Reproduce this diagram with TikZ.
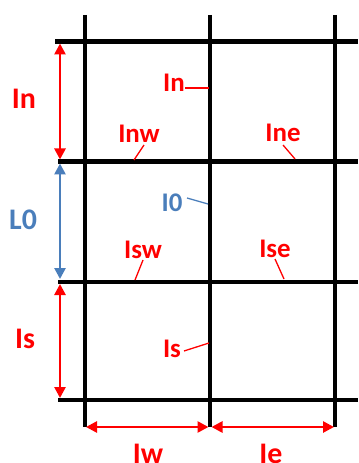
\documentclass[tikz,border=0pt]{standalone}
\usepackage{fontspec}
\setmainfont{Carlito}
\usetikzlibrary{arrows.meta}
\definecolor{myred}{RGB}{255,0,0}
\definecolor{myblue}{RGB}{74,126,187}
\tikzset{
  gridline/.style={line width=4.2bp,black},
  dimred/.style={line width=2.6bp,myred,{Triangle[length=11bp,width=11bp]}-{Triangle[length=11bp,width=11bp]}},
  dimblue/.style={line width=2.6bp,myblue,{Triangle[length=11bp,width=11bp]}-{Triangle[length=11bp,width=11bp]}},
  leadred/.style={line width=1.3bp,myred},
  leadblue/.style={line width=1.3bp,myblue},
  biglab/.style={inner sep=0pt,anchor=base,font=\fontsize{30}{31}\selectfont\bfseries},
  smalllab/.style={inner sep=0pt,anchor=base,font=\fontsize{27}{28}\selectfont\bfseries},
}
\begin{document}
\begin{tikzpicture}[x=1bp,y=-1bp]
\useasboundingbox (0,0) rectangle (358,463);
% grid coordinates
\coordinate (v1t) at (85,15);  \coordinate (v1b) at (85,427);
\coordinate (v2t) at (210,15); \coordinate (v2b) at (210,427);
\coordinate (v3t) at (335,15); \coordinate (v3b) at (335,427);
\coordinate (h1l) at (55,41.5);  \coordinate (h1r) at (358,41.5);
\coordinate (h2l) at (58,161.5); \coordinate (h2r) at (358,161.5);
\coordinate (h3l) at (58,282);   \coordinate (h3r) at (358,282);
\coordinate (h4l) at (58,400);   \coordinate (h4r) at (358,400);
\draw[gridline] (v1t) -- (v1b);
\draw[gridline] (v2t) -- (v2b);
\draw[gridline] (v3t) -- (v3b);
\draw[gridline] (h1l) -- (h1r);
\draw[gridline] (h2l) -- (h2r);
\draw[gridline] (h3l) -- (h3r);
\draw[gridline] (h4l) -- (h4r);
% dimension arrows
\coordinate (an1) at (60,43.5);  \coordinate (an2) at (60,159.5);
\coordinate (ab1) at (60,163.5); \coordinate (ab2) at (60,279);
\coordinate (as1) at (60,284);   \coordinate (as2) at (60,398);
\coordinate (aw1) at (86,427);   \coordinate (aw2) at (208.5,427);
\coordinate (ae1) at (211.5,427);  \coordinate (ae2) at (334,427);
\draw[dimred] (an1) -- (an2);
\draw[dimblue] (ab1) -- (ab2);
\draw[dimred] (as1) -- (as2);
\draw[dimred] (aw1) -- (aw2);
\draw[dimred] (ae1) -- (ae2);
% outer labels
\node[biglab,myred]  (lIn) at (24,109) {In};
\node[biglab,myblue] (lL0) at (23,230) {L0};
\node[biglab,myred]  (lIs) at (25,348) {Is};
\node[biglab,myred]  (lIw) at (148,463) {Iw};
\node[biglab,myred]  (lIe) at (271,463) {Ie};
% inner labels
\node[smalllab,myred]  (iIn)  at (174,92)  {In};
\node[smalllab,myred]  (iInw) at (139,143) {Inw};
\node[smalllab,myred]  (iIne) at (283,142) {Ine};
\node[smalllab,myblue] (iI0)  at (172,212) {I0};
\node[smalllab,myred]  (iIsw) at (143,258) {Isw};
\node[smalllab,myred]  (iIse) at (275,257) {Ise};
\node[smalllab,myred]  (iIs)  at (172,357) {Is};
% leader lines
\coordinate (pIn) at (209,88);   \coordinate (qIn) at (185,88);
\coordinate (pInw) at (134,160); \coordinate (qInw) at (144,145);
\coordinate (pIne) at (295,159); \coordinate (qIne) at (283,145);
\coordinate (pI0) at (208,204);  \coordinate (qI0) at (187,198);
\coordinate (pIsw) at (135,280); \coordinate (qIsw) at (143,260);
\coordinate (pIse) at (284,279); \coordinate (qIse) at (275,259);
\coordinate (pIs) at (209,343);  \coordinate (qIs) at (184,351);
\draw[leadred] (qIn) -- (pIn);
\draw[leadred] (qInw) -- (pInw);
\draw[leadred] (qIne) -- (pIne);
\draw[leadblue] (qI0) -- (pI0);
\draw[leadred] (qIsw) -- (pIsw);
\draw[leadred] (qIse) -- (pIse);
\draw[leadred] (qIs) -- (pIs);
\end{tikzpicture}
\end{document}
